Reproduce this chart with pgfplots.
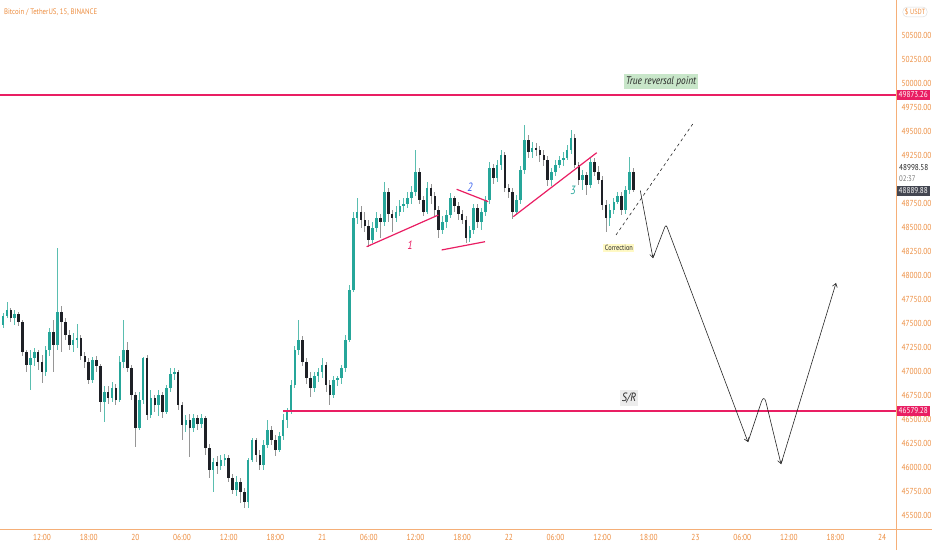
\documentclass[border=0pt]{standalone}
\usepackage{pgfplots}
\pgfplotsset{compat=1.18}
\usepackage{pgfplotstable}
\usepackage{fontspec}
\setmainfont{PT Sans}[FakeStretch=0.85]
\usetikzlibrary{arrows.meta}
\definecolor{upc}{RGB}{38,166,154}
\definecolor{dnc}{RGB}{30,32,38}
\definecolor{upw}{RGB}{90,190,176}
\definecolor{dnw}{RGB}{150,150,150}
\definecolor{crim}{RGB}{233,30,99}
\definecolor{tickc}{RGB}{236,140,62}
\definecolor{axl}{RGB}{245,175,120}
\definecolor{blue2}{RGB}{60,100,240}
\definecolor{greenbg}{RGB}{200,230,201}
\definecolor{graybg}{RGB}{236,236,236}
\definecolor{yellowbg}{RGB}{255,249,196}
\definecolor{lastbg}{RGB}{67,70,81}
\pgfplotstableread{
t o h l c
7.0 47479 47605 47448 47573
7.5 47573 47719 47552 47636
8.0 47636 47657 47511 47552
8.5 47552 47636 47479 47594
9.0 47594 47615 47469 47511
9.5 47511 47531 47156 47198
10.0 47198 47219 46990 47063
10.5 47063 47219 46802 47136
11.0 47136 47240 47052 47198
11.5 47198 47219 47011 47094
12.0 47094 47167 46875 46990
12.5 46990 47261 46949 47219
13.0 47219 47448 47156 47407
13.5 47407 47531 46990 47271
14.0 47271 48282 47219 47615
14.5 47615 47678 47198 47511
15.0 47511 47552 47323 47375
15.5 47375 47427 47219 47271
16.0 47271 47396 47198 47323
16.5 47323 47490 47240 47344
17.0 47344 47375 47115 47156
17.5 47156 47198 47032 47094
18.0 47094 47136 46865 46907
18.5 46907 47146 46875 47115
19.0 47115 47156 46990 47052
19.5 47052 47073 46573 46677
20.0 46677 46844 46469 46781
20.5 46781 46844 46657 46719
21.0 46719 46886 46677 46823
21.5 46823 46865 46646 46698
22.0 46698 47156 46677 47094
22.5 47094 47531 47032 47219
23.0 47219 47302 46990 47032
23.5 47032 47063 46698 46750
24.0 46750 46781 46209 46407
24.5 46407 46781 46386 46698
25.0 46698 47146 46657 47136
25.5 47136 47167 46490 46542
26.0 46542 46802 46511 46719
26.5 46719 46750 46573 46646
27.0 46646 46802 46532 46750
27.5 46750 46781 46511 46573
28.0 46573 46854 46552 46823
28.5 46823 47032 46781 46969
29.0 46969 47032 46907 46990
29.5 46990 47011 46594 46646
30.0 46646 46677 46282 46438
30.5 46438 46542 46365 46490
31.0 46490 46552 46104 46407
31.5 46407 46552 46365 46511
32.0 46511 46542 46386 46448
32.5 46448 46552 46407 46511
33.0 46511 46532 46125 46198
33.5 46198 46240 45886 45969
34.0 45969 46094 45740 46052
34.5 46052 46115 45927 46011
35.0 46011 46125 45969 46073
35.5 46073 46136 46011 46094
36.0 46094 46125 45844 45886
36.5 45886 45927 45719 45761
37.0 45761 45907 45698 45844
37.5 45844 45886 45625 45740
38.0 45740 45782 45573 45636
38.5 45636 46094 45573 46073
39.0 46073 46302 46052 46282
39.5 46282 46302 46052 46125
40.0 46125 46177 45969 46021
40.5 46021 46282 45969 46229
41.0 46229 46490 46198 46386
41.5 46386 46427 46229 46282
42.0 46282 46334 46115 46177
42.5 46177 46365 46156 46323
43.0 46323 46552 46282 46490
43.5 46490 46615 46407 46573
44.0 46573 46907 46552 46854
44.5 46854 47261 46823 47219
45.0 47219 47531 47167 47323
45.5 47323 47365 47052 47094
46.0 47094 47136 46865 46927
46.5 46927 46990 46729 46823
47.0 46823 46990 46781 46949
47.5 46949 47032 46886 46990
48.0 46990 47136 46927 47063
48.5 47063 47094 46781 46854
49.0 46854 46907 46646 46750
49.5 46750 46949 46719 46907
50.0 46907 46949 46844 46927
50.5 46927 47063 46865 47032
51.0 47032 47375 46990 47323
51.5 47323 47896 47302 47844
52.0 47844 48657 47823 48594
52.5 48594 48803 48532 48657
53.0 48657 48719 48490 48573
53.5 48573 48657 48448 48511
54.0 48511 48573 48292 48365
54.5 48365 48552 48334 48490
55.0 48490 48657 48448 48594
55.5 48594 48636 48386 48552
56.0 48552 48969 48511 48865
56.5 48865 48907 48552 48636
57.0 48636 48677 48448 48594
57.5 48594 48719 48552 48657
58.0 48657 48782 48615 48719
58.5 48719 48803 48657 48740
59.0 48740 48865 48698 48803
59.5 48803 48928 48740 48865
60.0 48865 49302 48823 49073
60.5 49073 49115 48740 48782
61.0 48782 48823 48615 48657
61.5 48657 48969 48636 48907
62.0 48907 48948 48740 48823
62.5 48823 48865 48615 48677
63.0 48677 48719 48386 48469
63.5 48469 48615 48427 48552
64.0 48552 48677 48490 48625
64.5 48625 48855 48594 48803
65.0 48803 48823 48657 48719
65.5 48719 48761 48573 48636
66.0 48636 48677 48532 48573
66.5 48573 48615 48334 48386
67.0 48386 48511 48344 48469
67.5 48469 48740 48427 48698
68.0 48698 48740 48490 48552
68.5 48552 48698 48469 48657
69.0 48657 48823 48615 48782
69.5 48782 49177 48740 49115
70.0 49115 49157 48948 49011
70.5 49011 49198 48969 49146
71.0 49146 49302 49094 49250
71.5 49250 49281 48865 48907
72.0 48907 48948 48803 48865
72.5 48865 48907 48584 48657
73.0 48657 48834 48636 48782
73.5 48782 49136 48740 49094
74.0 49094 49563 49052 49406
74.5 49406 49459 49219 49282
75.0 49282 49386 49219 49323
75.5 49323 49375 49240 49302
76.0 49302 49344 49177 49250
76.5 49250 49302 49136 49198
77.0 49198 49240 48928 48990
77.5 48990 49115 48928 49073
78.0 49073 49198 49032 49146
78.5 49146 49240 49115 49198
79.0 49198 49281 49136 49219
79.5 49219 49354 49198 49302
80.0 49302 49511 49261 49427
80.5 49427 49469 49115 49146
81.0 49146 49177 48938 48990
81.5 48990 49094 48886 49042
82.0 49042 49073 48834 48938
82.5 48938 49229 48907 49177
83.0 49177 49219 49032 49073
83.5 49073 49136 48948 48990
84.0 48990 49032 48677 48730
84.5 48730 48782 48448 48594
85.0 48594 48740 48511 48677
85.5 48677 48803 48636 48761
86.0 48761 48865 48740 48823
86.5 48823 48865 48625 48677
87.0 48677 48928 48636 48886
87.5 48886 49229 48844 49073
88.0 49073 49115 48865 48890
}\candles
\begin{document}
\begin{tikzpicture}
\begin{axis}[name=ax, at={(0,0)}, anchor=south west,
  scale only axis, width=896pt, height=529pt,
  xmin=6.6, xmax=121.77, ymin=45354, ymax=50865,
  axis line style={draw=none},
  major tick length=0pt,
  xtick={12,18,...,120},
  xticklabels={12:00,18:00,20,06:00,12:00,18:00,21,06:00,12:00,18:00,22,06:00,12:00,18:00,23,06:00,12:00,18:00,24},
  ytick={45500,45750,46000,46250,46500,46750,47000,47250,47500,47750,48000,48250,48500,48750,49250,49500,49750,50000,50250,50500},
  yticklabel pos=right,
  scaled y ticks=false,
  /pgf/number format/assume math mode=true,
  yticklabel={\pgfmathprintnumber[fixed,fixed zerofill,precision=2,1000 sep={}]{\tick}},
  tick label style={font=\fontsize{8.7}{9}\selectfont, text=tickc},
  yticklabel style={anchor=west, xshift=2pt},
  xticklabel style={yshift=-2pt},
  clip=false,
]
% wicks
\addplot[draw=none, mark=none, forget plot,
  restrict expr to domain={\thisrow{c}-\thisrow{o}}{0:100000},
  error bars/.cd, y dir=both, y explicit, error mark=none,
  error bar style={draw=upw, solid, line width=0.9pt}]
  table[x=t, y expr=(\thisrow{h}+\thisrow{l})/2, y error expr=(\thisrow{h}-\thisrow{l})/2] {\candles};
\addplot[draw=none, mark=none, forget plot,
  restrict expr to domain={\thisrow{o}-\thisrow{c}}{0.5:100000},
  error bars/.cd, y dir=both, y explicit, error mark=none,
  error bar style={draw=dnw, solid, line width=0.9pt}]
  table[x=t, y expr=(\thisrow{h}+\thisrow{l})/2, y error expr=(\thisrow{h}-\thisrow{l})/2] {\candles};
% bodies
\addplot[draw=none, mark=none, forget plot,
  restrict expr to domain={\thisrow{c}-\thisrow{o}}{0:100000},
  error bars/.cd, y dir=both, y explicit, error mark=none,
  error bar style={draw=upc, solid, line width=2.6pt}]
  table[x=t, y expr=(\thisrow{o}+\thisrow{c})/2, y error expr={max(abs(\thisrow{c}-\thisrow{o})/2,6)}] {\candles};
\addplot[draw=none, mark=none, forget plot,
  restrict expr to domain={\thisrow{o}-\thisrow{c}}{0.5:100000},
  error bars/.cd, y dir=both, y explicit, error mark=none,
  error bar style={draw=dnc, solid, line width=2.6pt}]
  table[x=t, y expr=(\thisrow{o}+\thisrow{c})/2, y error expr={max(abs(\thisrow{c}-\thisrow{o})/2,6)}] {\candles};
% horizontal levels
\addplot[crim, line width=2pt, forget plot] coordinates {(6.6,49873.26) (121.77,49873.26)};
\addplot[crim, line width=2pt, forget plot] coordinates {(43.0,46579.28) (121.77,46579.28)};
% trend lines
\addplot[crim, line width=1.2pt, forget plot] coordinates {(53.73,48295) (62.94,48625)};
\addplot[crim, line width=1.2pt, forget plot] coordinates {(65.30,48893) (69.36,48764)};
\addplot[crim, line width=1.2pt, forget plot] coordinates {(63.37,48261) (68.94,48347)};
\addplot[crim, line width=1.2pt, forget plot] coordinates {(72.58,48608) (83.30,49274)};
% dashed projection
\addplot[black!85, line width=0.6pt, dash pattern=on 3pt off 3pt, forget plot] coordinates {(85.78,48417) (95.64,49573)};
% projected path
\addplot[black!85, line width=0.6pt, forget plot, -{Straight Barb[length=3.5pt,width=5pt]}] coordinates {(88.9,48880) (90.53,48177)};
\addplot[black!85, line width=0.6pt, forget plot, rounded corners=3pt, -{Straight Barb[length=3.5pt,width=5pt]}] coordinates {(90.53,48177) (92.2,48530) (102.74,46261)};
\addplot[black!85, line width=0.6pt, forget plot, rounded corners=8pt, -{Straight Barb[length=3.5pt,width=5pt]}] coordinates {(102.74,46261) (104.8,46760) (106.99,46031)};
\addplot[black!85, line width=0.6pt, forget plot, -{Straight Barb[length=3.5pt,width=5pt]}] coordinates {(106.99,46031) (114.06,47917)};
% labels
\node[font=\itshape\fontsize{12}{14}\selectfont, text=crim] at (axis cs:59.3,48313) {1};
\node[font=\itshape\fontsize{12}{14}\selectfont, text=blue2] at (axis cs:67.0,48917) {2};
\node[font=\itshape\fontsize{12}{14}\selectfont, text=upc] at (axis cs:80.25,48886) {3};
\node[fill=greenbg, text=black!85, font=\itshape\fontsize{11}{12}\selectfont, inner xsep=2pt, inner ysep=2.5pt] at (axis cs:91.56,50011) {True reversal point};
\node[fill=graybg, text=black!85, font=\itshape\fontsize{12}{13}\selectfont, inner xsep=2pt, inner ysep=2.5pt] at (axis cs:87.45,46719) {S/R};
\node[fill=yellowbg, text=black!85, font=\fontsize{7.5}{8}\selectfont, inner xsep=1.5pt, inner ysep=1.5pt] at (axis cs:86.16,48282) {Correction};
\end{axis}
\begin{scope}[shift={(ax.south west)}]
\draw[axl, line width=0.8pt] (0,0) -- (932pt,0);
\draw[axl, line width=0.8pt] (896pt,-21pt) -- (896pt,529pt);
\node[anchor=west, text=tickc, font=\fontsize{8}{9}\selectfont, inner sep=0pt] at (4pt,517pt) {Bitcoin / TetherUS, 15, BINANCE};
\node[draw=black!15, rounded corners=4pt, text=tickc, font=\fontsize{7.5}{8}\selectfont, inner xsep=2pt, inner ysep=1.5pt] at (915pt,517pt) {\$ USDT};
\node[anchor=west, fill=crim, text=white, font=\fontsize{8.5}{9}\selectfont, inner xsep=2pt, inner ysep=2pt] at (896.5pt,434pt) {49873.26};
\node[anchor=west, fill=crim, text=white, font=\fontsize{8.5}{9}\selectfont, inner xsep=2pt, inner ysep=2pt] at (896.5pt,118pt) {46579.28};
\node[anchor=west, text=black!85, font=\fontsize{8.5}{9}\selectfont, inner xsep=2pt, inner ysep=0pt] at (897pt,361pt) {48998.58};
\node[anchor=west, text=black!55, font=\fontsize{8}{9}\selectfont, inner xsep=2pt, inner ysep=0pt] at (897pt,350pt) {02:37};
\node[anchor=west, fill=lastbg, text=white, font=\fontsize{8.5}{9}\selectfont, inner xsep=2pt, inner ysep=2pt] at (896.5pt,338pt) {48889.88};
\end{scope}
\pgfresetboundingbox
\path[use as bounding box] (ax.south west) ++(0,-21pt) rectangle ++(932pt,550pt);
\end{tikzpicture}
\end{document}
